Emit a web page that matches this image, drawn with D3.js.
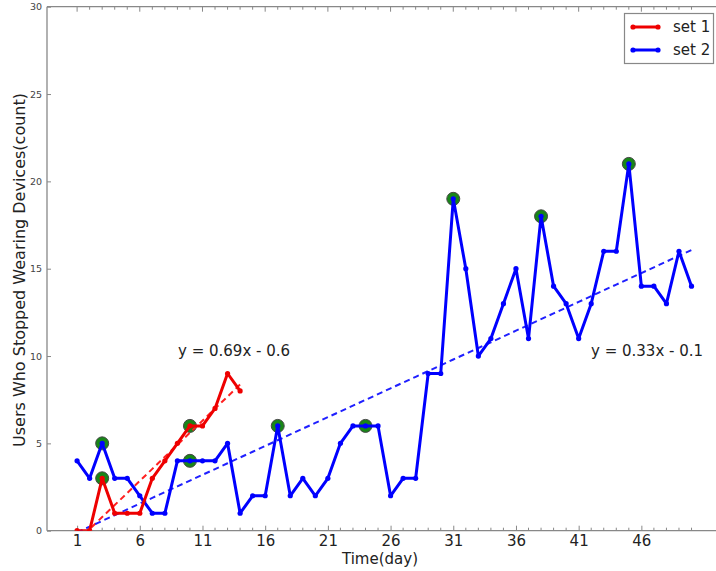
<!DOCTYPE html>
<html><head><meta charset="utf-8">
<script src="https://cdn.jsdelivr.net/npm/d3@7"></script>
<style>body{margin:0;background:#fff;} svg{display:block;font-family:"DejaVu Sans",sans-serif;}</style>
</head><body>
<svg id="c" width="716" height="571"></svg>
<script>
const days = d3.range(1, 51);
const set1 = [0,0,3,1,1,1,3,4,5,6,6,7,9,8];
const set2 = [4,3,5,3,3,2,1,1,4,4,4,4,5,1,2,2,6,2,3,2,3,5,6,6,6,2,3,3,9,9,19,15,10,11,13,15,11,18,14,13,11,13,16,16,21,14,14,13,16,14];
const fit1 = {slope:0.69, intercept:-0.6, label:"y = 0.69x - 0.6"};
const fit2 = {slope:0.33, intercept:-0.1, label:"y = 0.33x - 0.1"};
const xTicks = [1,6,11,16,21,26,31,36,41,46];
const yTicks = [0,5,10,15,20,25,30];
const highlightEvery = 7, highlightStart = 3;

const svg = d3.select("#c");
const x = d3.scaleLinear().domain([-1.4, 52]).range([47, 716.6]);
const y = d3.scaleLinear().domain([0, 30]).range([530.7, 6.7]);

const defs = svg.append("defs");
defs.append("clipPath").attr("id","clip").append("rect")
  .attr("x", 47).attr("y", 6.7).attr("width", 716.6-47).attr("height", 530.7-6.7);

const axisColor = "#888";
const g = svg.append("g");
g.append("line").attr("x1",47).attr("x2",47).attr("y1",6.7).attr("y2",530.7).attr("stroke",axisColor).attr("stroke-width",1.3);
g.append("line").attr("x1",47).attr("x2",716.6).attr("y1",530.7).attr("y2",530.7).attr("stroke",axisColor).attr("stroke-width",1.3);
g.append("line").attr("x1",47).attr("x2",716.6).attr("y1",6.7).attr("y2",6.7).attr("stroke",axisColor).attr("stroke-width",1.3);

const xAxis = d3.axisBottom(x).tickValues(xTicks).tickSize(-5).tickPadding(5).tickFormat(d3.format("d"));
const gx = svg.append("g").attr("transform","translate(0,530.7)").call(xAxis);
gx.select(".domain").remove();
gx.selectAll("line").attr("stroke",axisColor);
gx.selectAll("text").attr("font-size",15).attr("fill","#222").attr("font-family","DejaVu Sans");
const minor = days.filter(d => !xTicks.includes(d));
svg.append("g").selectAll("line").data(minor).join("line")
  .attr("x1",d=>x(d)).attr("x2",d=>x(d)).attr("y1",530.7).attr("y2",527.7).attr("stroke",axisColor);
svg.append("g").selectAll("line").data(days).join("line")
  .attr("x1",d=>x(d)).attr("x2",d=>x(d)).attr("y1",6.7).attr("y2",d=>xTicks.includes(d)?11.7:9.7).attr("stroke",axisColor);

const yAxis = d3.axisLeft(y).tickValues(yTicks).tickSize(-4).tickPadding(5);
const gy = svg.append("g").attr("transform","translate(47,0)").call(yAxis);
gy.select(".domain").remove();
gy.selectAll("line").attr("stroke",axisColor);
gy.selectAll("text").attr("font-size",9.5).attr("fill","#444").attr("font-family","DejaVu Sans");

svg.append("text").attr("x",380).attr("y",564).attr("text-anchor","middle").attr("font-size",15).attr("fill","#222").text("Time(day)");
svg.append("text").attr("transform","translate(25,270) rotate(-90)").attr("text-anchor","middle").attr("font-size",16).attr("fill","#222").text("Users Who Stopped Wearing Devices(count)");

const plot = svg.append("g").attr("clip-path","url(#clip)");

function highlights(arr){ return arr.map((v,i)=>({d:i+1,v})).filter(p => (p.d - highlightStart) % highlightEvery === 0 && p.d >= highlightStart); }
const hl = highlights(set1).concat(highlights(set2));
plot.append("g").selectAll("circle").data(hl).join("circle")
  .attr("cx",p=>x(p.d)).attr("cy",p=>y(p.v)).attr("r",6.5)
  .attr("fill","#007a00").attr("stroke","#333").attr("stroke-width",1).attr("opacity",0.9);

const line = d3.line().x(p=>x(p.d)).y(p=>y(p.v));
function fitPts(arr, f){ return arr.map((_,i)=>({d:i+1, v:f.slope*i + f.intercept})); }
plot.append("path").attr("d", line(fitPts(set1, fit1))).attr("fill","none").attr("stroke","#ff2020").attr("stroke-width",2).attr("stroke-dasharray","6,4");
plot.append("path").attr("d", line(fitPts(set2, fit2))).attr("fill","none").attr("stroke","#2020ff").attr("stroke-width",2).attr("stroke-dasharray","6,4");

const series = [{data:set2,color:"#0000ff"},{data:set1,color:"#ee0000"}];
series.forEach(s=>{
  const pts = s.data.map((v,i)=>({d:i+1,v}));
  plot.append("path").attr("d",line(pts)).attr("fill","none").attr("stroke",s.color).attr("stroke-width",3).attr("stroke-linejoin","round");
  plot.append("g").selectAll("circle").data(pts).join("circle")
    .attr("cx",p=>x(p.d)).attr("cy",p=>y(p.v)).attr("r",2.6).attr("fill",s.color);
});

svg.append("text").attr("x",178).attr("y",356).attr("font-size",15).attr("fill","#222").text(fit1.label);
svg.append("text").attr("x",591).attr("y",356).attr("font-size",15).attr("fill","#222").text(fit2.label);

const lg = svg.append("g");
lg.append("rect").attr("x",624.5).attr("y",13.5).attr("width",89).attr("height",50).attr("fill","#fff").attr("stroke","#888").attr("stroke-width",1.2);
[{name:"set 1",color:"#ee0000",yy:27},{name:"set 2",color:"#0000ff",yy:50}].forEach(it=>{
  lg.append("line").attr("x1",633).attr("x2",658).attr("y1",it.yy).attr("y2",it.yy).attr("stroke",it.color).attr("stroke-width",3);
  lg.append("circle").attr("cx",633).attr("cy",it.yy).attr("r",2.6).attr("fill",it.color);
  lg.append("circle").attr("cx",658).attr("cy",it.yy).attr("r",2.6).attr("fill",it.color);
  lg.append("text").attr("x",673).attr("y",it.yy+5).attr("font-size",15).attr("fill","#222").text(it.name);
});
</script>
</body></html>
